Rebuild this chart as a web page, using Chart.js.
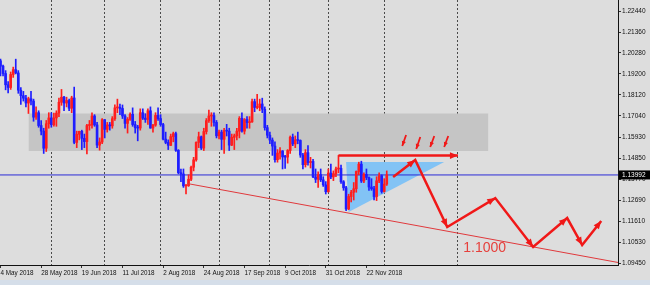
<!DOCTYPE html>
<html>
<head>
<meta charset="utf-8">
<script src="https://cdn.jsdelivr.net/npm/chart.js@4.4.1/dist/chart.umd.min.js"></script>
<style>
  html, body { margin: 0; padding: 0; background: #dddddd; }
  #wrap { width: 650px; height: 280px; }
  #strip { width: 650px; height: 5px; background: #d5dee9; }
</style>
</head>
<body>
<div id="wrap"><canvas id="chart" width="650" height="280"></canvas></div>
<div id="strip"></div>
<script>
// =====================================================
//  EURUSD Daily — candles + hand drawn analysis
// =====================================================

// daily bars, bar 0 = 4 May 2018
const opens = [1.1988,1.1960,1.1922,1.1864,1.1850,1.1917,1.1942,1.1925,1.1836,1.1808,1.1795,1.1770,1.1792,1.1780,1.1697,1.1720,1.1654,1.1625,1.1537,1.1663,
  1.1693,1.1658,1.1693,1.1718,1.1774,1.1800,1.1770,1.1783,1.1743,1.1796,1.1567,1.1609,1.1624,1.1588,1.1571,1.1654,1.1657,1.1703,1.1657,1.1553,
  1.1569,1.1684,1.1634,1.1657,1.1652,1.1689,1.1745,1.1748,1.1742,1.1703,1.1665,1.1686,1.1712,1.1659,1.1642,1.1641,1.1720,1.1692,1.1685,1.1730,
  1.1641,1.1656,1.1706,1.1690,1.1659,1.1584,1.1567,1.1552,1.1597,1.1612,1.1526,1.1411,1.1404,1.1343,1.1344,1.1377,1.1439,1.1477,1.1567,1.1596,
  1.1538,1.1623,1.1679,1.1703,1.1705,1.1670,1.1601,1.1620,1.1583,1.1628,1.1625,1.1553,1.1593,1.1601,1.1625,1.1691,1.1625,1.1685,1.1669,1.1673,
  1.1777,1.1747,1.1747,1.1765,1.1738,1.1643,1.1604,1.1579,1.1548,1.1478,1.1512,1.1523,1.1492,1.1491,1.1525,1.1594,1.1559,1.1580,1.1577,1.1502,
  1.1452,1.1514,1.1463,1.1469,1.1389,1.1377,1.1401,1.1374,1.1348,1.1313,1.1409,1.1389,1.1406,1.1430,1.1433,1.1364,1.1333,1.1224,1.1288,1.1310,
  1.1328,1.1417,1.1455,1.1368,1.1402,1.1386,1.1337,1.1328,1.1288,1.1369,1.1395,1.1314,1.1352];
const highs = [1.1997,1.1965,1.1937,1.1880,1.1930,1.1955,1.1996,1.1937,1.1850,1.1830,1.1810,1.1800,1.1830,1.1790,1.1750,1.1730,1.1680,1.1640,1.1680,1.1720,
  1.1720,1.1718,1.1730,1.1795,1.1840,1.1805,1.1800,1.1790,1.1805,1.1852,1.1625,1.1625,1.1630,1.1610,1.1660,1.1680,1.1720,1.1710,1.1670,1.1590,
  1.1690,1.1685,1.1670,1.1670,1.1700,1.1760,1.1790,1.1765,1.1760,1.1710,1.1695,1.1720,1.1745,1.1675,1.1655,1.1740,1.1740,1.1715,1.1740,1.1750,
  1.1660,1.1720,1.1745,1.1710,1.1665,1.1620,1.1580,1.1610,1.1620,1.1620,1.1530,1.1430,1.1430,1.1350,1.1400,1.1445,1.1490,1.1570,1.1620,1.1600,
  1.1640,1.1690,1.1733,1.1720,1.1720,1.1680,1.1630,1.1630,1.1640,1.1660,1.1640,1.1610,1.1610,1.1640,1.1700,1.1720,1.1690,1.1700,1.1700,1.1790,
  1.1790,1.1815,1.1790,1.1795,1.1750,1.1655,1.1620,1.1590,1.1570,1.1530,1.1540,1.1525,1.1500,1.1530,1.1600,1.1610,1.1600,1.1620,1.1580,1.1510,
  1.1530,1.1550,1.1490,1.1480,1.1430,1.1415,1.1430,1.1390,1.1365,1.1430,1.1455,1.1420,1.1440,1.1500,1.1450,1.1370,1.1340,1.1300,1.1320,1.1360,
  1.1420,1.1465,1.1470,1.1410,1.1430,1.1390,1.1380,1.1340,1.1390,1.1410,1.1400,1.1380,1.1420];
const lows = [1.1910,1.1910,1.1838,1.1822,1.1840,1.1902,1.1920,1.1820,1.1763,1.1780,1.1750,1.1716,1.1760,1.1676,1.1686,1.1645,1.1605,1.1510,1.1520,1.1640,
  1.1645,1.1650,1.1650,1.1700,1.1758,1.1730,1.1750,1.1730,1.1720,1.1560,1.1540,1.1580,1.1530,1.1540,1.1508,1.1630,1.1640,1.1650,1.1540,1.1527,
  1.1560,1.1590,1.1620,1.1630,1.1640,1.1680,1.1720,1.1710,1.1690,1.1640,1.1615,1.1680,1.1650,1.1615,1.1575,1.1630,1.1685,1.1670,1.1660,1.1640,
  1.1620,1.1650,1.1680,1.1650,1.1580,1.1560,1.1530,1.1550,1.1570,1.1520,1.1405,1.1365,1.1335,1.1301,1.1340,1.1370,1.1420,1.1470,1.1540,1.1530,
  1.1525,1.1610,1.1670,1.1650,1.1650,1.1590,1.1585,1.1530,1.1510,1.1600,1.1525,1.1550,1.1530,1.1580,1.1590,1.1620,1.1610,1.1640,1.1640,1.1670,
  1.1725,1.1740,1.1730,1.1720,1.1630,1.1590,1.1560,1.1500,1.1465,1.1465,1.1480,1.1430,1.1433,1.1460,1.1510,1.1550,1.1540,1.1560,1.1490,1.1430,
  1.1440,1.1450,1.1435,1.1385,1.1360,1.1335,1.1365,1.1340,1.1301,1.1310,1.1380,1.1370,1.1390,1.1410,1.1355,1.1320,1.1215,1.1220,1.1260,1.1270,
  1.1310,1.1400,1.1360,1.1360,1.1375,1.1320,1.1320,1.1270,1.1267,1.1360,1.1305,1.1310,1.1345];
const closes = [1.1960,1.1922,1.1864,1.1850,1.1917,1.1942,1.1925,1.1836,1.1808,1.1795,1.1770,1.1792,1.1780,1.1697,1.1720,1.1654,1.1625,1.1537,1.1663,1.1693,
  1.1658,1.1693,1.1718,1.1774,1.1800,1.1770,1.1783,1.1743,1.1796,1.1567,1.1609,1.1624,1.1588,1.1571,1.1654,1.1657,1.1703,1.1657,1.1553,1.1569,
  1.1684,1.1634,1.1657,1.1652,1.1689,1.1745,1.1748,1.1742,1.1703,1.1665,1.1686,1.1712,1.1659,1.1642,1.1641,1.1720,1.1692,1.1685,1.1730,1.1641,
  1.1656,1.1706,1.1690,1.1659,1.1584,1.1567,1.1552,1.1597,1.1612,1.1526,1.1411,1.1404,1.1343,1.1344,1.1377,1.1439,1.1477,1.1567,1.1596,1.1538,
  1.1623,1.1679,1.1703,1.1705,1.1670,1.1601,1.1620,1.1583,1.1628,1.1625,1.1553,1.1593,1.1601,1.1625,1.1691,1.1625,1.1685,1.1669,1.1673,1.1777,
  1.1747,1.1747,1.1765,1.1738,1.1643,1.1604,1.1579,1.1548,1.1478,1.1512,1.1523,1.1492,1.1491,1.1525,1.1594,1.1559,1.1580,1.1577,1.1502,1.1452,
  1.1514,1.1463,1.1469,1.1389,1.1377,1.1401,1.1374,1.1348,1.1313,1.1409,1.1389,1.1406,1.1430,1.1433,1.1364,1.1333,1.1224,1.1288,1.1310,1.1328,
  1.1417,1.1455,1.1368,1.1402,1.1386,1.1337,1.1328,1.1288,1.1369,1.1395,1.1314,1.1352,1.1399];

// axis labels
const dateLabels = ['4 May 2018','28 May 2018','19 Jun 2018','11 Jul 2018','2 Aug 2018','24 Aug 2018','17 Sep 2018','9 Oct 2018','31 Oct 2018','22 Nov 2018'];
const dateTickBars = [0, 16, 32, 48, 64, 80, 96, 112, 128, 144];
const monthStartBars = [20, 41, 63, 86, 106, 129, 151, 180];
const priceTicks = [1.22440,1.21360,1.20280,1.19200,1.18120,1.17040,1.15930,1.14850,1.13770,1.12690,1.11610,1.10530,1.09450];
const bidPrice = 1.13992;

// drawn objects (bar index, price)
const zoneBars = [11, 192];
const zoneTop = 1.1716, zoneBottom = 1.1523;
const triangleBars = [136, 174.6, 137, 136];
const trianglePrices = [1.1466, 1.1466, 1.1208, 1.1466];
const trendBars = [73.5, 243];
const trendPrices = [1.1355, 1.0948];
const resistBars = [133, 180];
const resistPrices = [1.1499, 1.1499];
const dropArrowBars = [[159.6, 158.1], [165.2, 163.6], [170.7, 169.1], [176.2, 174.6]];
const dropArrowPrices = [[1.1605, 1.1548], [1.1595, 1.1533], [1.1600, 1.1543], [1.1600, 1.1543]];
const pathBars = [154.5, 163.2, 175.8, 194.7, 209.6, 223.0, 228.9, 236.4];
const pathPrices = [1.1389, 1.1476, 1.1131, 1.1280, 1.1028, 1.1177, 1.1038, 1.1162];
const targetText = '1.1000';
const targetAt = { x: 182.1, y: 1.1022 };

const X_MIN = -0.2, X_MAX = 243;
const UP = '#ff1e1e', DOWN = '#1e1eff', ARROW = '#f01818';

const pts = (xs, ys) => xs.map((x, i) => ({ x, y: ys[i] }));
const candleColor = ctx => closes[ctx.dataIndex] >= opens[ctx.dataIndex] ? UP : DOWN;

function lineSet(data, color, width, order, extra) {
  return Object.assign({
    type: 'line', data, borderColor: color, backgroundColor: color, borderWidth: width,
    pointRadius: 0, fill: false, tension: 0, order, borderCapStyle: 'butt', borderJoinStyle: 'miter'
  }, extra || {});
}

const datasets = [
  lineSet(pts(zoneBars, zoneBars.map(() => zoneTop)), '#c5c5c5', 0, 20, { fill: { value: zoneBottom }, backgroundColor: '#c5c5c5' }),
  lineSet(pts(triangleBars, trianglePrices), '#82c3f5', 0, 19, { fill: 'shape', backgroundColor: '#82c3f5' }),
  lineSet(pts([X_MIN, X_MAX], [bidPrice, bidPrice]), '#2b2bd6', 1, 18),
  {
    type: 'bar', data: highs.map((h, i) => ({ x: i, y: [lows[i], h] })),
    backgroundColor: candleColor, barThickness: 1, grouped: false, order: 6
  },
  {
    type: 'bar', data: opens.map((o, i) => ({ x: i, y: [o, closes[i]] })),
    backgroundColor: candleColor, barThickness: 2, minBarLength: 1, grouped: false, order: 5
  },
  lineSet(pts(trendBars, trendPrices), '#e0393c', 1, 4),
  lineSet(pts(resistBars, resistPrices), ARROW, 2.5, 1, { arrowSize: 8 }),
  lineSet(pts(pathBars, pathPrices), ARROW, 2.5, 1, { arrowSize: 8 })
];
dropArrowBars.forEach((xs, i) => datasets.push(lineSet(pts(xs, dropArrowPrices[i]), ARROW, 1.8, 1, { arrowSize: 5 })));

// arrow heads at the end of every segment
const arrowHeads = {
  id: 'arrowHeads',
  afterDatasetsDraw(chart) {
    const ctx = chart.ctx;
    chart.data.datasets.forEach((ds, di) => {
      if (!ds.arrowSize) return;
      const els = chart.getDatasetMeta(di).data;
      const s = ds.arrowSize, w = s * 0.42;
      ctx.save();
      ctx.fillStyle = ds.borderColor;
      for (let i = 1; i < els.length; i++) {
        const a = els[i - 1], b = els[i];
        const ang = Math.atan2(b.y - a.y, b.x - a.x);
        const c = Math.cos(ang), sn = Math.sin(ang);
        ctx.beginPath();
        ctx.moveTo(b.x, b.y);
        ctx.lineTo(b.x - s * c + w * sn, b.y - s * sn - w * c);
        ctx.lineTo(b.x - s * c - w * sn, b.y - s * sn + w * c);
        ctx.closePath();
        ctx.fill();
      }
      ctx.restore();
    });
  }
};

// target text + bid price box on the axis
const labels = {
  id: 'labels',
  afterDraw(chart) {
    const { ctx, chartArea, scales } = chart;
    ctx.save();
    ctx.font = '14px "Liberation Sans"';
    ctx.fillStyle = '#e6403c';
    ctx.textAlign = 'left';
    ctx.textBaseline = 'middle';
    ctx.fillText(targetText, scales.x.getPixelForValue(targetAt.x), scales.y.getPixelForValue(targetAt.y));

    const yb = scales.y.getPixelForValue(bidPrice);
    ctx.fillStyle = '#000';
    ctx.fillRect(chartArea.right + 1, yb - 4.5, 31, 9);
    ctx.fillStyle = '#fff';
    ctx.font = '6.5px "Liberation Sans"';
    ctx.fillText(bidPrice.toFixed(5), chartArea.right + 4, yb + 0.5);
    ctx.restore();
  }
};

Chart.defaults.font.family = '"Liberation Sans", Arial, sans-serif';

new Chart(document.getElementById('chart'), {
  type: 'bar',
  data: { datasets },
  options: {
    responsive: false, animation: false,
    layout: { padding: 0 },
    plugins: { legend: { display: false }, tooltip: { enabled: false } },
    scales: {
      x: {
        type: 'linear', position: 'bottom', min: X_MIN, max: X_MAX, offset: false,
        grid: { offset: false, drawOnChartArea: false, drawTicks: true, tickLength: 3, color: '#333' },
        border: { display: true, color: '#111', width: 1 },
        ticks: {
          font: { size: 6.3 }, color: '#111', align: 'start', maxRotation: 0, autoSkip: false, padding: 1,
          callback: (v, i) => dateLabels[i]
        },
        afterBuildTicks: s => { s.ticks = dateTickBars.map(v => ({ value: v })); },
        afterFit: s => { s.height = 15; s.paddingLeft = 0; s.paddingRight = 0; }
      },
      xg: {
        type: 'linear', position: 'top', min: X_MIN, max: X_MAX, offset: false,
        grid: { offset: false, drawOnChartArea: true, drawTicks: false, color: '#4a4a4a', lineWidth: 1 },
        border: { display: false, dash: [2, 2] },
        ticks: { display: false, autoSkip: false },
        afterBuildTicks: s => { s.ticks = monthStartBars.map(v => ({ value: v })); },
        afterFit: s => { s.height = 0; s.paddingLeft = 0; s.paddingRight = 0; }
      },
      y: {
        type: 'linear', position: 'right', min: 1.0935, max: 1.2301, beginAtZero: false,
        grid: { drawOnChartArea: false, drawTicks: true, tickLength: 3, color: '#333' },
        border: { display: true, color: '#111', width: 1 },
        ticks: { font: { size: 6.5 }, color: '#111', padding: 1, callback: v => v.toFixed(5) },
        afterBuildTicks: s => { s.ticks = priceTicks.map(v => ({ value: v })); },
        afterFit: s => { s.width = 32; s.paddingTop = 0; s.paddingBottom = 0; }
      }
    }
  },
  plugins: [arrowHeads, labels]
});
</script>
</body>
</html>
